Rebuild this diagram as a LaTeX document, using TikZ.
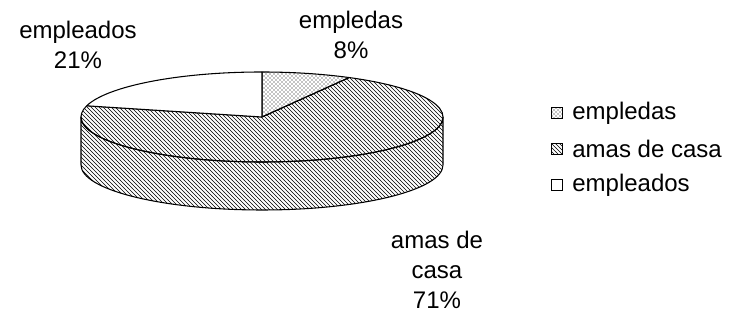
\documentclass[tikz,border=0pt]{standalone}
\usepackage{fontspec}
\setmainfont{Liberation Sans}
\usepackage{tikz}
\usetikzlibrary{patterns}
\usetikzlibrary{positioning}

\tikzset{
  rim/.style={line width=0.8pt, line join=round},
  lbl/.style={align=center, inner sep=0pt, font=\fontsize{18}{22.5}\selectfont},
  legbox/.style={draw, line width=0.6pt, minimum size=8pt, inner sep=0pt},
  legtxt/.style={inner sep=0pt, font=\fontsize{18}{22.5}\selectfont}
}

\begin{document}
\begin{tikzpicture}[x=0.75pt,y=0.75pt]
\useasboundingbox (0,0) rectangle (740,320);
\coordinate (c) at (262,203);
% side of the pie
\draw [rim, pattern=north west lines] (81,203) -- (81,155) arc[start angle=180, end angle=360, x radius=181, y radius=45] -- (443,203) arc[start angle=0, end angle=-180, x radius=181, y radius=45] -- cycle;
% top slices
\draw [rim, pattern=north west lines] (c) -- ++(61.2:181 and 45) arc[start angle=61.2, end angle=-194.4, x radius=181, y radius=45] -- cycle;
\draw [rim, pattern=crosshatch dots] (c) -- ++(90:181 and 45) arc[start angle=90, end angle=61.2, x radius=181, y radius=45] -- cycle;
\draw [rim, fill=white] (c) -- ++(165.6:181 and 45) arc[start angle=165.6, end angle=90, x radius=181, y radius=45] -- cycle;

\node [lbl] (lblEmpleados) at (78,275) {empleados\\21\%};
\node [lbl] (lblEmpledas) at (351,285) {empledas\\8\%};
\node [lbl] (lblAmas) at (437,50) {amas de\\casa\\71\%};

\node [legbox, pattern=crosshatch dots] (keyEmpledas) at (557,207) {};
\node [legbox, pattern=north west lines] (keyAmas) at (557,171) {};
\node [legbox, fill=white] (keyEmpleados) at (557,135) {};
\node [legtxt, right=7pt of keyEmpledas] (txtEmpledas) {empledas};
\node [legtxt, right=7pt of keyAmas] (txtAmas) {amas de casa};
\node [legtxt, right=7pt of keyEmpleados] (txtEmpleados) {empleados};

\end{tikzpicture}
\end{document}
